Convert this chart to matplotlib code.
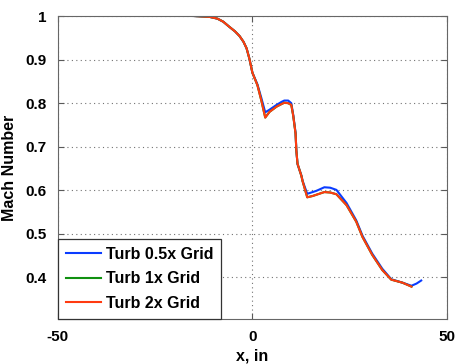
import numpy as np
import matplotlib
matplotlib.use("Agg")
import matplotlib.pyplot as plt

plt.rcParams['font.family'] = ['Liberation Sans', 'DejaVu Sans']
plt.rcParams['font.weight'] = 'bold'
plt.rcParams['axes.unicode_minus'] = False

# Mach number along x
x_half = [-15.0, -11.0, -9.0, -7.5, -5.9, -4.5, -3.3, -2.3, -1.5, -0.8, 0.0, 1.3,
          2.3, 3.3, 4.4, 6.2, 7.5, 8.2, 9.2, 10.0, 10.5, 11.1, 11.3, 11.6, 12.6,
          12.9, 14.1, 15.5, 16.5, 18.5, 20.0, 21.6, 24.2, 26.7, 28.3, 30.8, 33.4,
          35.7, 38.6, 40.9, 42.2, 43.4]
m_half = [1.0, 0.998, 0.994, 0.987, 0.975, 0.965, 0.954, 0.941, 0.926, 0.903, 0.870,
          0.843, 0.812, 0.779, 0.785, 0.796, 0.803, 0.806, 0.806, 0.800, 0.773,
          0.732, 0.692, 0.660, 0.634, 0.622, 0.592, 0.596, 0.599, 0.607, 0.606,
          0.601, 0.571, 0.531, 0.496, 0.455, 0.420, 0.396, 0.388, 0.381, 0.386,
          0.393]

x_one = [-15.0, -11.0, -9.0, -7.5, -5.9, -4.5, -3.3, -2.3, -1.5, -0.8, 0.0, 1.3,
         2.3, 3.3, 4.4, 6.2, 7.5, 8.2, 9.2, 10.0, 10.5, 11.1, 11.3, 11.6, 12.6,
         12.9, 14.1, 15.5, 16.5, 18.5, 20.0, 21.6, 24.2, 26.7, 28.3, 30.8, 33.4,
         35.7, 38.6, 40.9]
m_one = [1.0, 0.998, 0.994, 0.987, 0.975, 0.965, 0.954, 0.941, 0.926, 0.903, 0.870,
         0.841, 0.806, 0.767, 0.780, 0.792, 0.798, 0.801, 0.800, 0.796, 0.771,
         0.730, 0.691, 0.661, 0.633, 0.621, 0.584, 0.587, 0.590, 0.596, 0.595,
         0.591, 0.566, 0.528, 0.493, 0.452, 0.417, 0.395, 0.388, 0.379]

x_two = x_one
m_two = m_one

labels = ['Turb 0.5x Grid', 'Turb 1x Grid', 'Turb 2x Grid']
colors = ['#0a3cff', '#109010', '#ff3a10']

fig = plt.figure(figsize=(4.56, 3.64), dpi=100)
ax = fig.add_axes([0.127, 0.124, 0.853, 0.832])

ax.plot(x_half, m_half, color=colors[0], lw=1.5, label=labels[0])
ax.plot(x_one, m_one, color=colors[1], lw=1.5, label=labels[1])
ax.plot(x_two, m_two, color=colors[2], lw=1.5, label=labels[2])

ax.set_xlim(-50, 50)
ax.set_ylim(0.305, 1.0)
ax.set_xticks([-50, 0, 50])
ax.set_yticks([0.4, 0.5, 0.6, 0.7, 0.8, 0.9, 1.0])
ax.set_yticklabels(['0.4', '0.5', '0.6', '0.7', '0.8', '0.9', '1'])
ax.grid(True, linestyle=(0, (1, 3)), color='0.45', lw=0.8)
ax.tick_params(direction='in', length=4, top=True, right=True, labelsize=11,
               pad=8, color='0.35')
for s in ax.spines.values():
    s.set_color('0.4')

ax.set_xlabel('x, in', fontsize=11.5, fontweight='bold', labelpad=3)
ax.set_ylabel('Mach Number', fontsize=11.5, fontweight='bold', labelpad=6)

leg = ax.legend(loc='lower left', fontsize=11.5, handlelength=2.2,
                borderaxespad=0, fancybox=False, framealpha=1,
                labelspacing=0.6, handletextpad=0.3, borderpad=0.5)
leg.get_frame().set_edgecolor('0.2')
leg.get_frame().set_linewidth(0.9)

fig.savefig('out.png', dpi=100)
